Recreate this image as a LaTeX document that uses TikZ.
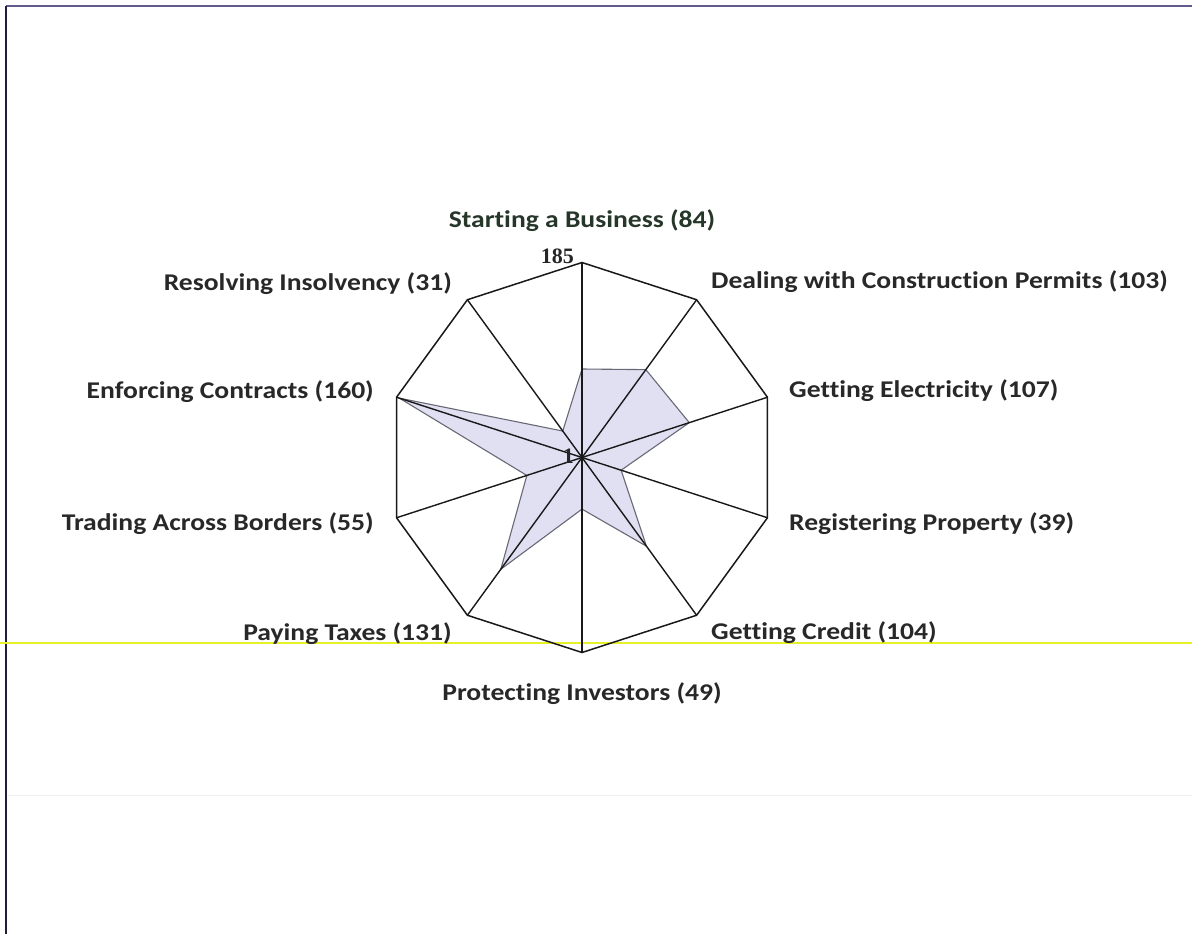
\documentclass[tikz,border=0pt]{standalone}
\usepackage{fontspec}
\newfontfamily\labfont[FakeStretch=1.15, Ligatures=NoCommon]{Carlito}
\newfontfamily\numfont{Liberation Serif}
\definecolor{labcol}{RGB}{40,40,40}
\definecolor{startcol}{RGB}{38,55,42}
\definecolor{polyfill}{RGB}{224,224,242}
\definecolor{polyedge}{RGB}{105,105,118}
\definecolor{framecol}{RGB}{100,90,140}
\definecolor{leftcol}{RGB}{30,30,60}
\definecolor{yellowcol}{RGB}{232,240,40}
\definecolor{faintcol}{RGB}{238,238,238}
\tikzset{
  lab/.style={inner sep=0pt, text=labcol, font=\labfont\bfseries\fontsize{24}{28}\selectfont},
  axisline/.style={draw=black!90, line width=1.4pt},
  rim/.style={draw=black!90, line width=1.5pt, line join=miter},
  datapoly/.style={fill=polyfill, draw=polyedge, line width=1.1pt},
  numlab/.style={inner sep=0pt, text=black!85, font=\numfont\bfseries\fontsize{22}{24}\selectfont}
}
\begin{document}
\begin{tikzpicture}[x=1pt,y=-1pt]
\useasboundingbox (0,0) rectangle (1192,934);
\fill[white] (0,0) rectangle (1192,934);
% frame lines
\draw[framecol, line width=1.5pt] (6,6) -- (1192,6);
\draw[leftcol, line width=2pt] (6,6) -- (6,934);
\draw[yellowcol, line width=2pt] (0,643) -- (1192,643);
\draw[faintcol, line width=1pt] (8,795) -- (1192,795);
% centre
\coordinate (c) at (582,457.5);
% outer vertices and data points
\foreach \i/\ang/\r in {1/90/88.5, 2/54/108.6, 3/18/112.8, 4/-18/41.1, 5/-54/109.6,
                         6/-90/51.6, 7/-126/138.1, 8/-162/58.0, 9/162/192, 10/126/32.7}{
  \path (c) ++(-\ang:195) coordinate (o\i);
  \path (c) ++(-\ang:\r) coordinate (d\i);
}
% data polygon
\path[datapoly] (d1) -- (d2) -- (d3) -- (d4) -- (d5) -- (d6) -- (d7) -- (d8) -- (d9) -- (d10) -- cycle;
% axes
\foreach \i in {1,...,10}{
  \draw[axisline] (c) -- (o\i);
}
% outer decagon
\path[rim] (o1) -- (o2) -- (o3) -- (o4) -- (o5) -- (o6) -- (o7) -- (o8) -- (o9) -- (o10) -- cycle;
% scale labels
\node[numlab, anchor=base east] (smax) at (574,263) {185};
\node[numlab, anchor=base east] (smin) at (574,463) {1};
% axis labels
\node[lab, anchor=base, text=startcol] (l1) at (582,227) {Starting a Business (84)};
\node[lab, anchor=base west] (l2) at (711,288) {Dealing with Construction Permits (103)};
\node[lab, anchor=base west] (l3) at (789,397) {Getting Electricity (107)};
\node[lab, anchor=base west] (l4) at (789,530) {Registering Property (39)};
\node[lab, anchor=base west] (l5) at (711,639) {Getting Credit (104)};
\node[lab, anchor=base] (l6) at (582,700) {Protecting Investors (49)};
\node[lab, anchor=base east] (l7) at (452,640) {Paying Taxes (131)};
\node[lab, anchor=base east] (l8) at (374,530) {Trading Across Borders (55)};
\node[lab, anchor=base east] (l9) at (374,398) {Enforcing Contracts (160)};
\node[lab, anchor=base east] (l10) at (452,290) {Resolving Insolvency (31)};
\end{tikzpicture}
\end{document}
